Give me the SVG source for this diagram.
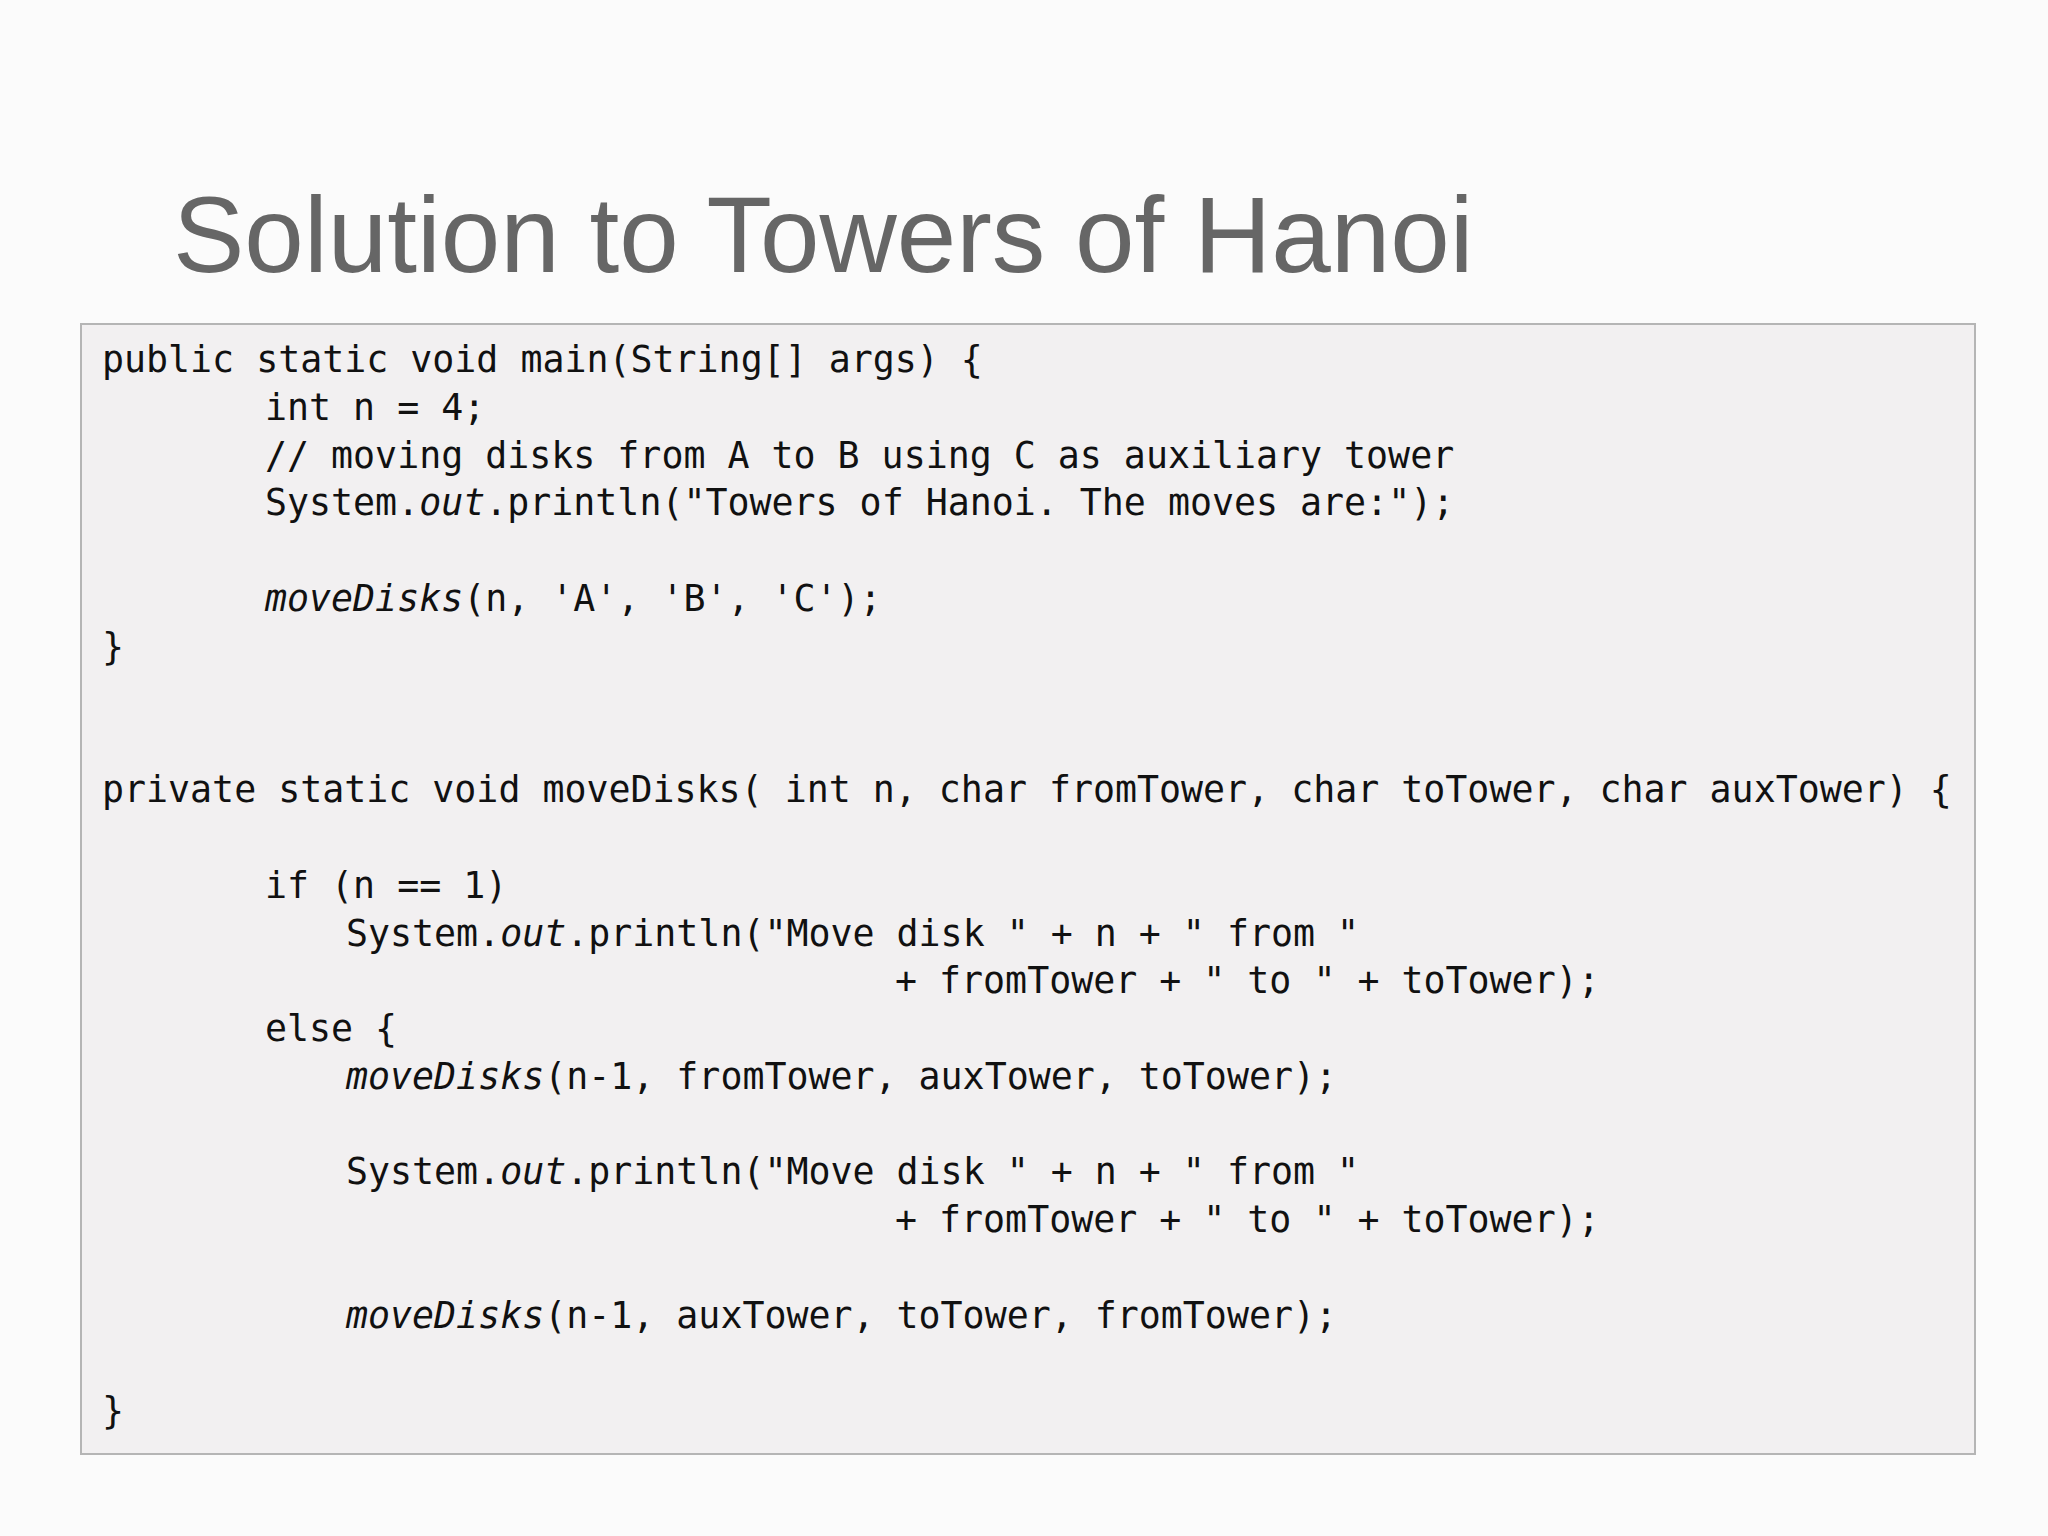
<svg xmlns="http://www.w3.org/2000/svg" width="2048" height="1536" viewBox="0 0 2048 1536">
<style>
.c{font-family:"DejaVu Sans Mono","Liberation Mono",monospace;font-size:36.6px;fill:#111}
.i{font-style:italic}
</style>
<rect width="2048" height="1536" fill="#fbfbfb"/>
<g id="title"><text x="173" y="272" font-family="Liberation Sans, Arial, sans-serif" font-size="107" fill="#666">Solution to Towers of Hanoi</text></g>
<g id="codebox">
<rect x="81" y="324" width="1894" height="1130" fill="#f2f0f1" stroke="#b5b5b5" stroke-width="2"/>
<text class="c" x="102" y="372">public static void main(String[] args) {</text>
<text class="c" x="265" y="420">int n = 4;</text>
<text class="c" x="265" y="468">// moving disks from A to B using C as auxiliary tower</text>
<text class="c" x="265" y="515">System.<tspan class="i">out</tspan>.println("Towers of Hanoi. The moves are:");</text>
<text class="c" x="265" y="611"><tspan class="i">moveDisks</tspan>(n, 'A', 'B', 'C');</text>
<text class="c" x="102" y="659">}</text>
<text class="c" x="102" y="802">private static void moveDisks( int n, char fromTower, char toTower, char auxTower) {</text>
<text class="c" x="265" y="898">if (n == 1)</text>
<text class="c" x="346" y="946">System.<tspan class="i">out</tspan>.println("Move disk " + n + " from "</text>
<text class="c" x="895" y="993">+ fromTower + " to " + toTower);</text>
<text class="c" x="265" y="1041">else {</text>
<text class="c" x="346" y="1089"><tspan class="i">moveDisks</tspan>(n-1, fromTower, auxTower, toTower);</text>
<text class="c" x="346" y="1184">System.<tspan class="i">out</tspan>.println("Move disk " + n + " from "</text>
<text class="c" x="895" y="1232">+ fromTower + " to " + toTower);</text>
<text class="c" x="346" y="1328"><tspan class="i">moveDisks</tspan>(n-1, auxTower, toTower, fromTower);</text>
<text class="c" x="102" y="1423">}</text>
</g>
</svg>
